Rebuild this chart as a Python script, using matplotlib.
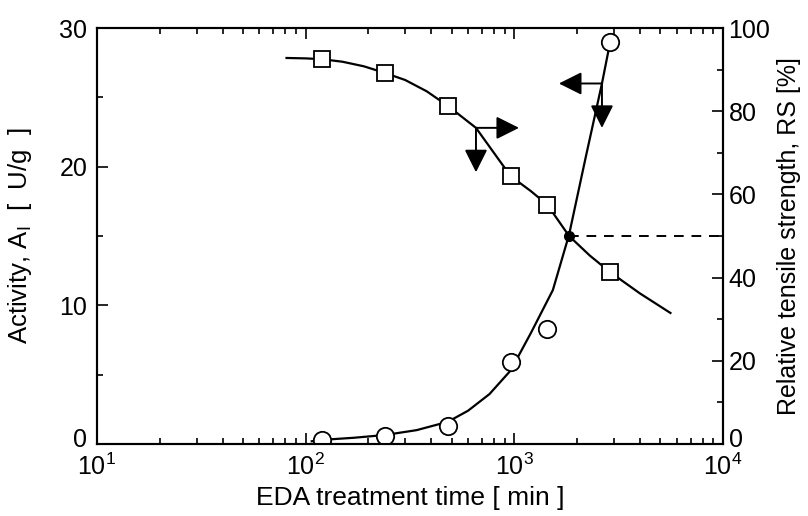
import matplotlib
matplotlib.use("Agg")
import matplotlib.pyplot as plt
from matplotlib.ticker import LogLocator, MultipleLocator, NullFormatter
from matplotlib.transforms import ScaledTranslation

plt.rcParams["font.family"] = ["Liberation Sans", "DejaVu Sans"]
plt.rcParams["mathtext.fontset"] = "custom"
plt.rcParams["mathtext.rm"] = "Liberation Sans"
plt.rcParams["mathtext.default"] = "regular"

# measured points (EDA treatment time in min)
time_min = [120, 240, 480, 960, 1440, 2880]
rs_pct = [92.5, 89.2, 81.3, 64.4, 57.5, 41.3]
activity = [0.3, 0.6, 1.3, 5.9, 8.3, 29.0]

# fitted curves
rs_fit_t = [81, 100, 120, 150, 190, 240, 300, 380, 480, 655, 960, 1200, 1440, 1830, 2300, 2880, 4000, 5600]
rs_fit = [92.8, 92.7, 92.5, 91.9, 90.8, 89.2, 87.5, 84.8, 81.3, 76.0, 64.4, 60.8, 57.5, 50.0, 45.3, 41.3, 36.2, 31.5]
act_fit_t = [107, 120, 170, 240, 340, 480, 600, 760, 960, 1200, 1530, 1830, 2200, 2630, 2880]
act_fit = [0.2, 0.3, 0.45, 0.65, 1.0, 1.6, 2.4, 3.6, 5.3, 8.0, 11.1, 15.1, 20.7, 26.0, 29.0]

# crossing point (RS = 50 %) and arrow anchors
cross_t, cross_rs = 1830, 50.0
rs_arrow_t, rs_arrow_v = 655, 76.0
act_arrow_t, act_arrow_v = 2630, 26.0

fig = plt.figure(figsize=(8.08, 5.16), dpi=100)
ax = fig.add_axes([0.120, 0.1395, 0.7748, 0.8062])
ax2 = ax.twinx()

LW = 1.6
ax.plot(act_fit_t, act_fit, color="k", lw=LW, zorder=2)
ax.plot(time_min, activity, "o", ms=12.5, mfc="white", mec="k", mew=1.3, zorder=3)
ax2.plot(rs_fit_t, rs_fit, color="k", lw=LW, zorder=2)
ax2.plot(time_min, rs_pct, "s", ms=11, mfc="white", mec="k", mew=1.3, zorder=3)
ax2.hlines(cross_rs, cross_t, 1e4, colors="k", lw=1.4, linestyles=(0, (5, 4)))
ax2.plot([cross_t], [cross_rs], "o", color="k", ms=7, zorder=4)

def arrow(a, x, y, dx, dy):
    a.annotate("", xy=(x, y), xytext=(dx, dy), textcoords="offset points",
               arrowprops=dict(arrowstyle="<|-,head_length=14,head_width=7", color="k",
                               lw=1.4, shrinkA=0, shrinkB=0, mutation_scale=1))
arrow(ax2, rs_arrow_t, rs_arrow_v, 31, 0)
arrow(ax2, rs_arrow_t, rs_arrow_v, 0, -32)
arrow(ax, act_arrow_t, act_arrow_v, -31, 0)
arrow(ax, act_arrow_t, act_arrow_v, 0, -32)

ax.set_xscale("log")
ax.set_xlim(10, 1e4)
ax.set_ylim(0, 30)
ax2.set_ylim(0, 100)
ax.xaxis.set_major_locator(LogLocator(base=10, numticks=10))
ax.xaxis.set_minor_locator(LogLocator(base=10, subs=range(2, 10), numticks=10))
ax.xaxis.set_minor_formatter(NullFormatter())
ax.yaxis.set_major_locator(MultipleLocator(10))
ax.yaxis.set_minor_locator(MultipleLocator(5))
ax2.yaxis.set_major_locator(MultipleLocator(20))
ax2.yaxis.set_minor_locator(MultipleLocator(10))

for a in (ax, ax2):
    for s in a.spines.values():
        s.set_linewidth(1.5)
ax.tick_params(which="both", direction="in", top=True, right=False, width=1.2,
               labelsize=18)
ax.tick_params(which="major", length=8)
ax.tick_params(which="minor", length=4.5)
ax.tick_params(axis="y", pad=7)
ax.tick_params(axis="x", pad=7)
ax2.tick_params(which="both", direction="in", width=1.2, labelsize=18, pad=4)
ax2.tick_params(which="major", length=8)
ax2.tick_params(which="minor", length=4.5)

ax.set_xlabel("EDA treatment time [ min ]", fontsize=19)
ax.set_ylabel("Activity, A$_\\mathregular{I}$  [  U/g  ]", fontsize=18.5)
ax2.set_ylabel("Relative tensile strength, RS [%]", fontsize=18)
ax.xaxis.set_label_coords(0.5, -0.1)
ax.yaxis.set_label_coords(-0.1006, 0.5)
ax2.yaxis.set_label_coords(1.086, 0.5)

# the "0" labels sit a little above the bottom spine in the original
fig.canvas.draw()
lift = ScaledTranslation(0, 5 / 72, fig.dpi_scale_trans)
for axis, side in ((ax.yaxis, "label1"), (ax2.yaxis, "label2")):
    for loc, tick in zip(axis.get_majorticklocs(), axis.get_major_ticks()):
        if loc == 0:
            lab = getattr(tick, side)
            lab.set_transform(lab.get_transform() + lift)

fig.savefig("out.png", dpi=100)
